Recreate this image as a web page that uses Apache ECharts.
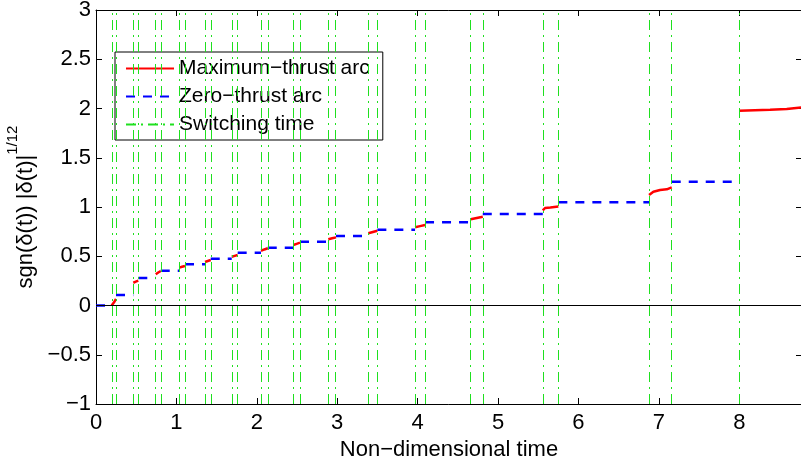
<!DOCTYPE html>
<html><head><meta charset="utf-8">
<script src="https://cdn.jsdelivr.net/npm/echarts@6/dist/echarts.min.js"></script>
<style>html,body{margin:0;padding:0;background:#fff}#c{width:801px;height:462px}</style>
</head><body><div id="c"></div>
<script>
const FONT = '"Liberation Sans", Arial, Helvetica, sans-serif';

// Axis ranges / ticks
const xRange = [0, 8.78];
const xInterval = 1;
const yRange = [-1, 3];
const yInterval = 0.5;

// Switching times: start and end of each maximum-thrust arc
const switchOn  = [0.195, 0.464, 0.743, 1.036, 1.356, 1.688, 2.052, 2.454, 2.889, 3.387, 3.968, 4.660, 5.556, 6.878, 8.001];
const switchOff = [0.249, 0.526, 0.805, 1.107, 1.427, 1.762, 2.136, 2.537, 2.985, 3.499, 4.092, 4.810, 5.750, 7.160];

// Zero-thrust (coast) arc levels: before first switch and after each arc
const coastLevels = [0, 0.107, 0.280, 0.353, 0.418, 0.475, 0.536, 0.587, 0.648, 0.706, 0.770, 0.845, 0.929, 1.048, 1.257];

// Maximum-thrust arcs: [time, value] readings
const maxArcs = [
  [[0.195, 0.000], [0.222, 0.030], [0.249, 0.066]],
  [[0.464, 0.231], [0.495, 0.242], [0.526, 0.252]],
  [[0.743, 0.317], [0.774, 0.335], [0.805, 0.350]],
  [[1.036, 0.384], [1.070, 0.393], [1.107, 0.401]],
  [[1.356, 0.442], [1.390, 0.452], [1.427, 0.462]],
  [[1.688, 0.495], [1.725, 0.504], [1.762, 0.513]],
  [[2.052, 0.556], [2.094, 0.569], [2.136, 0.581]],
  [[2.454, 0.614], [2.495, 0.626], [2.537, 0.638]],
  [[2.889, 0.672], [2.937, 0.682], [2.985, 0.692]],
  [[3.387, 0.733], [3.443, 0.746], [3.499, 0.759]],
  [[3.968, 0.794], [4.030, 0.806], [4.092, 0.817]],
  [[4.660, 0.875], [4.735, 0.889], [4.810, 0.902]],
  [[5.556, 0.965], [5.585, 0.990], [5.650, 0.995], [5.750, 1.005]],
  [[6.878, 1.122], [6.932, 1.155], [7.015, 1.173], [7.098, 1.179], [7.160, 1.199]],
  [[8.001, 1.978], [8.383, 1.988], [8.590, 1.995], [8.780, 2.012]]
];

const seriesNames = ['Maximum\u2212thrust arc', 'Zero\u2212thrust arc', 'Switching time'];

// Build line data with gaps
const redData = [];
maxArcs.forEach(arc => { arc.forEach(p => redData.push(p)); redData.push([arc[arc.length - 1][0], null]); });
const blueData = [];
coastLevels.forEach((v, i) => {
  const a = i === 0 ? xRange[0] : switchOff[i - 1];
  const b = switchOn[i];
  blueData.push([a, v], [b, v], [b, null]);
});
const switchTimes = switchOn.concat(switchOff).sort((a, b) => a - b);

const green = '#1fe01f';
const dashDot = [10, 5, 2, 5];

const chart = echarts.init(document.getElementById('c'), null, { renderer: 'canvas' });
const axisCommon = {
  axisLine: { show: true, onZero: false, lineStyle: { color: '#000', width: 1 } },
  axisTick: { show: true, inside: true, length: 6, lineStyle: { color: '#000', width: 1 } },
  splitLine: { show: false }
};
chart.setOption({
  animation: false,
  backgroundColor: '#fff',
  textStyle: { fontFamily: FONT },
  grid: { left: 96, top: 10, right: -1, bottom: 58, containLabel: false, outerBoundsMode: 'none' },
  legend: {
    data: seriesNames,
    orient: 'vertical',
    left: 115, top: 52,
    itemWidth: 48, itemHeight: 14, itemGap: 7,
    padding: [6, 13, 5, 10],
    borderColor: '#000', borderWidth: 1, backgroundColor: '#fff',
    itemStyle: { opacity: 0, borderWidth: 0 },
    textStyle: { fontFamily: FONT, fontSize: 21, color: '#000' },
    selectedMode: false
  },
  xAxis: [
    Object.assign({
      type: 'value', position: 'bottom', min: xRange[0], max: xRange[1], interval: xInterval,
      axisLabel: { fontFamily: FONT, fontSize: 22, color: '#000', margin: 8, showMaxLabel: false,
        formatter: v => Number.isInteger(v) ? String(v) : '' },
      name: 'Non\u2212dimensional time', nameLocation: 'middle', nameGap: 31,
      nameTextStyle: { fontFamily: FONT, fontSize: 22, color: '#000' }
    }, axisCommon),
    Object.assign({
      type: 'value', position: 'top', min: xRange[0], max: xRange[1], interval: xInterval,
      axisLabel: { show: false }
    }, axisCommon)
  ],
  yAxis: [
    Object.assign({
      type: 'value', position: 'left', min: yRange[0], max: yRange[1], interval: yInterval,
      axisLabel: { fontFamily: FONT, fontSize: 22, color: '#000', margin: 5,
        formatter: v => (v < 0 ? '\u2212' : '') + String(Math.abs(v)) },
      name: '{a|sgn(\u03b4(t)) |\u03b4(t)|}{b|1/12}', nameLocation: 'middle', nameRotate: 90, nameGap: 30,
      nameTextStyle: { fontFamily: FONT, color: '#000',
        rich: {
          a: { fontFamily: FONT, fontSize: 22, lineHeight: 40, color: '#000' },
          b: { fontFamily: FONT, fontSize: 15, lineHeight: 15, verticalAlign: 'top', color: '#000' }
        } }
    }, axisCommon),
    Object.assign({
      type: 'value', position: 'right', min: yRange[0], max: yRange[1], interval: yInterval,
      axisLabel: { show: false }
    }, axisCommon)
  ],
  series: [
    {
      name: 'zeroLine', type: 'line', data: [], silent: true, z: 1,
      markLine: { silent: true, symbol: ['none', 'none'], label: { show: false },
        lineStyle: { color: '#000', width: 1, type: 'solid' }, data: [{ yAxis: 0 }] }
    },
    {
      name: seriesNames[2], type: 'line', data: [], silent: true, z: 2,
      symbol: 'none', lineStyle: { color: green, width: 1, type: dashDot }, itemStyle: { color: green },
      markLine: { silent: true, symbol: ['none', 'none'], label: { show: false },
        lineStyle: { color: green, width: 1, type: dashDot },
        data: switchTimes.map(t => ({ xAxis: t })) }
    },
    {
      name: seriesNames[0], type: 'line', data: redData, symbol: 'none', showSymbol: false,
      connectNulls: false, z: 3,
      lineStyle: { color: '#ff0000', width: 2.5, type: 'solid' }, itemStyle: { color: '#ff0000' }
    },
    {
      name: seriesNames[1], type: 'line', data: blueData, symbol: 'none', showSymbol: false,
      connectNulls: false, z: 3,
      lineStyle: { color: '#0000ff', width: 2.5, type: [9, 8] }, itemStyle: { color: '#0000ff' }
    }
  ]
});
</script>
</body></html>
